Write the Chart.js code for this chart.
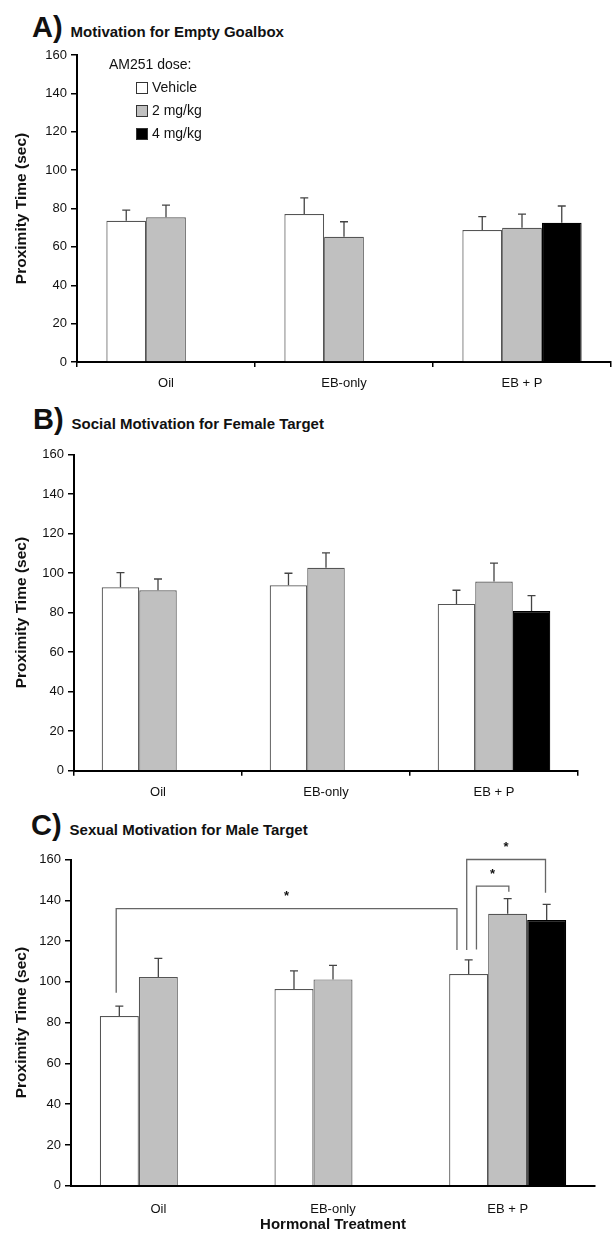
<!DOCTYPE html>
<html>
<head>
<meta charset="utf-8">
<script src="https://cdn.jsdelivr.net/npm/chart.js@4.4.0/dist/chart.umd.min.js"></script>
<style>
  body { margin: 0; background: #fff; font-family: "Liberation Sans", Arial, sans-serif; color: #111; }
  #page { position: relative; width: 615px; height: 1234px; overflow: hidden; }
  .box { position: absolute; left: 0; width: 615px; }
  .head { position: absolute; display: flex; align-items: baseline; white-space: nowrap; font-weight: bold; }
  .head b { font-size: 29px; margin-right: 8px; }
  .head span { font-size: 15px; }
  #legend { position: absolute; left: 109px; top: 53px; font-size: 14px; line-height: 23px; }
  #legend .item { padding-left: 27px; position: relative; }
  #legend .sw { position: absolute; left: 27px; top: 6px; width: 10px; height: 10px; border: 1px solid #333; }
  #legend .item span.t { margin-left: 16px; }
</style>
</head>
<body>
<div id="page">
  <div class="head" style="left:32px;top:11px"><b>A)</b><span>Motivation for Empty Goalbox</span></div>
  <div class="head" style="left:33px;top:403px"><b>B)</b><span>Social Motivation for Female Target</span></div>
  <div class="head" style="left:31px;top:809px"><b>C)</b><span>Sexual Motivation for Male Target</span></div>

  <div class="box" style="top:0;height:400px"><canvas id="goalbox" width="615" height="400"></canvas></div>
  <div class="box" style="top:400px;height:400px"><canvas id="female" width="615" height="400"></canvas></div>
  <div class="box" style="top:800px;height:434px"><canvas id="male" width="615" height="434"></canvas></div>

  <div id="legend"></div>
</div>

<script>
// treatments and AM251 doses
const categories = ['Oil', 'EB-only', 'EB + P'];
const doses = ['Vehicle', '2 mg/kg', '4 mg/kg'];
const doseColors = ['#ffffff', '#c0c0c0', '#000000'];

// A) empty goalbox, mean and SEM
const goalVeh = [73.6, 77.1, 68.8];
const goalVehSem = [5.6, 8.4, 7.0];
const goalMid = [75.4, 65.3, 70.0];
const goalMidSem = [6.4, 7.8, 7.1];
const goalHigh = [null, null, 72.6];
const goalHighSem = [null, null, 8.7];

// B) female target
const femVeh = [92.8, 93.8, 84.4];
const femVehSem = [7.4, 6.1, 6.9];
const femMid = [91.3, 102.7, 95.7];
const femMidSem = [5.7, 7.5, 9.3];
const femHigh = [null, null, 80.8];
const femHighSem = [null, null, 7.8];

// C) male target
const maleVeh = [83.2, 96.5, 103.8];
const maleVehSem = [4.9, 8.9, 7.0];
const maleMid = [102.4, 101.2, 133.4];
const maleMidSem = [9.1, 6.9, 7.4];
const maleHigh = [null, null, 130.3];
const maleHighSem = [null, null, 7.7];

// significance brackets on C: [category, dose] ends, leg bottoms and top (sec)
const sigFrom = [[0, 0], [2, 0], [2, 0]];
const sigTo = [[2, 0], [2, 2], [2, 1]];
const sigFromEnd = [94.6, 115.6, 115.9];
const sigToEnd = [115.6, 143.7, 144.2];
const sigTop = [135.9, 160, 146.9];

const yTicks = { min: 0, max: 160, step: 20 };

// legend
const lg = document.getElementById('legend');
lg.innerHTML = '<div>AM251 dose:</div>' + doses.map((d, i) =>
  '<div class="item"><i class="sw" style="background:' + doseColors[i] + '"></i><span class="t">' + d + '</span></div>').join('');

const errorBars = {
  id: 'errorBars',
  afterDatasetsDraw(chart) {
    const ctx = chart.ctx, y = chart.scales.y;
    ctx.save();
    ctx.strokeStyle = '#444';
    ctx.lineWidth = 1.3;
    chart.data.datasets.forEach((ds, i) => {
      chart.getDatasetMeta(i).data.forEach((bar, j) => {
        const v = ds.data[j], e = ds.sem[j];
        if (v == null || e == null) return;
        const yt = y.getPixelForValue(v + e);
        ctx.beginPath();
        ctx.moveTo(bar.x, bar.y);
        ctx.lineTo(bar.x, yt);
        ctx.moveTo(bar.x - 4, yt);
        ctx.lineTo(bar.x + 4, yt);
        ctx.stroke();
      });
    });
    ctx.restore();
  }
};

const brackets = {
  id: 'brackets',
  afterDatasetsDraw(chart, args, opts) {
    if (!opts.show) return;
    const ctx = chart.ctx, y = chart.scales.y;
    const legs = [[-0.08, -0.3], [-0.05, -0.03], [0.2, 0.03]];
    ctx.save();
    ctx.strokeStyle = '#666';
    ctx.lineWidth = 1.3;
    ctx.fillStyle = '#111';
    ctx.font = 'bold 13px "Liberation Sans", Arial';
    ctx.textAlign = 'center';
    ctx.textBaseline = 'middle';
    sigTop.forEach((top, k) => {
      const b1 = chart.getDatasetMeta(sigFrom[k][1]).data[sigFrom[k][0]];
      const b2 = chart.getDatasetMeta(sigTo[k][1]).data[sigTo[k][0]];
      const x1 = b1.x + legs[k][0] * b1.width;
      const x2 = b2.x + legs[k][1] * b2.width;
      const yt = y.getPixelForValue(top);
      ctx.beginPath();
      ctx.moveTo(x1, y.getPixelForValue(sigFromEnd[k]));
      ctx.lineTo(x1, yt);
      ctx.lineTo(x2, yt);
      ctx.lineTo(x2, y.getPixelForValue(sigToEnd[k]));
      ctx.stroke();
      ctx.fillText('*', (x1 + x2) / 2, yt - 12);
    });
    ctx.restore();
  }
};

function panel(id, boxTop, boxH, area, series, sems, opt) {
  const font = { family: '"Liberation Sans", Arial, sans-serif', size: 13 };
  new Chart(document.getElementById(id).getContext('2d'), {
    type: 'bar',
    data: {
      labels: categories,
      datasets: doses.map((d, i) => ({
        label: d,
        data: series[i],
        sem: sems[i],
        backgroundColor: doseColors[i],
        borderColor: i === 2 ? '#000' : '#555',
        borderWidth: 1.2,
        categoryPercentage: 0.67,
        barPercentage: 1.0
      }))
    },
    options: {
      responsive: false,
      animation: false,
      layout: { padding: { left: 0, right: 615 - area.right, top: area.top - boxTop, bottom: 0 } },
      plugins: {
        legend: { display: false },
        tooltip: { enabled: false },
        brackets: { show: !!opt.brackets }
      },
      scales: {
        x: {
          grid: { display: opt.xTicks, drawOnChartArea: false, tickLength: 5, color: '#000', lineWidth: 1.5, offset: true },
          border: { color: '#000', width: 2 },
          ticks: { color: '#111', font: font, padding: opt.xPad },
          title: {
            display: !!opt.xTitle, text: opt.xTitle || '', color: '#111',
            font: { family: font.family, size: 15, weight: 'bold' }, padding: { top: 0, bottom: 0 }
          },
          afterFit(s) { s.height = boxTop + boxH - area.bottom; }
        },
        y: {
          min: yTicks.min, max: yTicks.max,
          ticks: { stepSize: yTicks.step, color: '#111', font: font, padding: 4 },
          grid: { drawOnChartArea: false, tickLength: 6, color: '#000', lineWidth: 1.5 },
          border: { color: '#000', width: 2 },
          title: {
            display: true, text: 'Proximity Time (sec)', color: '#111',
            font: { family: font.family, size: 15.5, weight: 'bold' }, padding: { top: 12, bottom: 0 }
          },
          afterFit(s) { s.width = area.left; }
        }
      }
    },
    plugins: [errorBars, brackets]
  });
}

panel('goalbox', 0, 400, { left: 77, right: 611, top: 55, bottom: 362 },
  [goalVeh, goalMid, goalHigh], [goalVehSem, goalMidSem, goalHighSem],
  { xTicks: true, xPad: 9 });

panel('female', 400, 400, { left: 74, right: 578, top: 454.5, bottom: 770.7 },
  [femVeh, femMid, femHigh], [femVehSem, femMidSem, femHighSem],
  { xTicks: true, xPad: 9 });

panel('male', 800, 434, { left: 71, right: 595, top: 859.5, bottom: 1185.7 },
  [maleVeh, maleMid, maleHigh], [maleVehSem, maleMidSem, maleHighSem],
  { xTicks: false, xPad: 11, xTitle: 'Hormonal Treatment', brackets: true });
</script>
</body>
</html>
